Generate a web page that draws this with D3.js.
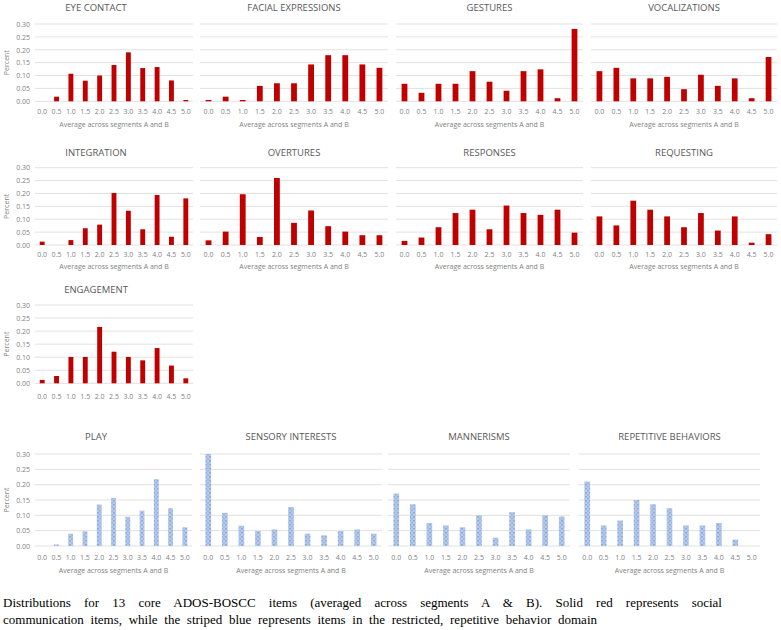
<!DOCTYPE html>
<html><head><meta charset="utf-8">
<script src="https://cdn.jsdelivr.net/npm/d3@7/dist/d3.min.js"></script>
<style>body{margin:0;background:#fff;}svg{display:block;}</style>
</head><body>
<svg id="c" width="781" height="630"></svg>
<script>
// ---------- DATA ----------
const categories = ["0.0","0.5","1.0","1.5","2.0","2.5","3.0","3.5","4.0","4.5","5.0"];
const yTickValues = [0, 0.05, 0.10, 0.15, 0.20, 0.25, 0.30];
const xAxisTitle = "Average across segments A and B";
const yAxisTitle = "Percent";

const eyeContact      = [0, 0.018, 0.107, 0.08, 0.10, 0.141, 0.19, 0.129, 0.133, 0.081, 0.005];
const facialExpr      = [0.005, 0.018, 0.005, 0.06, 0.07, 0.07, 0.143, 0.179, 0.179, 0.143, 0.13];
const gestures        = [0.068, 0.033, 0.068, 0.068, 0.117, 0.076, 0.041, 0.117, 0.124, 0.012, 0.281];
const vocalizations   = [0.117, 0.13, 0.089, 0.089, 0.095, 0.047, 0.103, 0.06, 0.089, 0.012, 0.172];
const integration     = [0.013, 0, 0.019, 0.065, 0.079, 0.202, 0.133, 0.061, 0.194, 0.032, 0.181];
const overtures       = [0.018, 0.052, 0.197, 0.031, 0.26, 0.086, 0.134, 0.073, 0.052, 0.038, 0.038];
const responses       = [0.016, 0.029, 0.069, 0.124, 0.137, 0.061, 0.153, 0.124, 0.117, 0.137, 0.048];
const requesting      = [0.111, 0.076, 0.172, 0.137, 0.111, 0.069, 0.124, 0.056, 0.111, 0.009, 0.042];
const engagement      = [0.013, 0.028, 0.101, 0.101, 0.216, 0.121, 0.101, 0.088, 0.135, 0.068, 0.019];
const play            = [0, 0.005, 0.04, 0.048, 0.135, 0.157, 0.095, 0.115, 0.218, 0.123, 0.061];
const sensory         = [0.30, 0.108, 0.066, 0.049, 0.054, 0.127, 0.04, 0.035, 0.049, 0.054, 0.04];
const mannerisms      = [0.171, 0.136, 0.075, 0.067, 0.061, 0.10, 0.027, 0.11, 0.054, 0.10, 0.096];
const repetitive      = [0.21, 0.067, 0.083, 0.15, 0.136, 0.123, 0.067, 0.067, 0.075, 0.021, 0];

const captionLines = [
  "Distributions for 13 core ADOS-BOSCC items (averaged across segments A & B). Solid red represents social",
  "communication items, while the striped blue represents items in the restricted, repetitive behavior domain"
];

// ---------- LAYOUT ----------
const rows = [
  {top:24,   bottom:101.3, titleY:11,    tickY:114,   axisTitleY:126.5, axisTitle:true},
  {top:167.7,bottom:245,   titleY:155.5, tickY:256.5, axisTitleY:269,   axisTitle:true},
  {top:305,  bottom:383.3, titleY:293,   tickY:398.5, axisTitleY:0,     axisTitle:false},
  {top:454,  bottom:546,   titleY:439.5, tickY:559.5, axisTitleY:573,   axisTitle:true}
];
const colsRed  = [[35,193],[200,388],[396,583],[591,777]];
const colsBlue = [[35,192],[200,382],[388,570],[579,760]];

const panels = [
  {title:"EYE CONTACT", values:eyeContact, row:0, col:0, kind:"red"},
  {title:"FACIAL EXPRESSIONS", values:facialExpr, row:0, col:1, kind:"red"},
  {title:"GESTURES", values:gestures, row:0, col:2, kind:"red"},
  {title:"VOCALIZATIONS", values:vocalizations, row:0, col:3, kind:"red"},
  {title:"INTEGRATION", values:integration, row:1, col:0, kind:"red"},
  {title:"OVERTURES", values:overtures, row:1, col:1, kind:"red"},
  {title:"RESPONSES", values:responses, row:1, col:2, kind:"red"},
  {title:"REQUESTING", values:requesting, row:1, col:3, kind:"red"},
  {title:"ENGAGEMENT", values:engagement, row:2, col:0, kind:"red"},
  {title:"PLAY", values:play, row:3, col:0, kind:"blue"},
  {title:"SENSORY INTERESTS", values:sensory, row:3, col:1, kind:"blue"},
  {title:"MANNERISMS", values:mannerisms, row:3, col:2, kind:"blue"},
  {title:"REPETITIVE BEHAVIORS", values:repetitive, row:3, col:3, kind:"blue"}
];

const svg = d3.select("#c");
const font = "'Open Sans', 'DejaVu Sans', sans-serif";

// striped blue pattern
const defs = svg.append("defs");
const pat = defs.append("pattern").attr("id","blueStripe").attr("patternUnits","userSpaceOnUse")
  .attr("width",4).attr("height",4);
pat.append("rect").attr("width",4).attr("height",4).attr("fill","#b3c8ea");
pat.append("rect").attr("x",1).attr("y",0).attr("width",2).attr("height",1.5).attr("fill","#8eabdb");
pat.append("rect").attr("x",0).attr("y",2).attr("width",1).attr("height",1.5).attr("fill","#9db8e2");
pat.append("rect").attr("x",3).attr("y",2).attr("width",1).attr("height",1.5).attr("fill","#9db8e2");

panels.forEach(p => {
  const r = rows[p.row];
  const cx = (p.kind === "red" ? colsRed : colsBlue)[p.col];
  const x = d3.scaleBand().domain(categories).range(cx).padding(0);
  const y = d3.scaleLinear().domain([0, 0.30]).range([r.bottom, r.top]);
  const g = svg.append("g");

  // gridlines
  g.selectAll("line.grid").data(yTickValues).join("line")
    .attr("x1", cx[0]).attr("x2", cx[1])
    .attr("y1", d => y(d)).attr("y2", d => y(d))
    .attr("stroke", "#d9d9d9").attr("stroke-width", 0.8);

  // bars
  const bw = x.bandwidth() * 0.34;
  g.selectAll("rect.bar").data(p.values.map((v,i)=>({c:categories[i], v}))).join("rect")
    .attr("x", d => x(d.c) + (x.bandwidth() - bw)/2)
    .attr("width", bw)
    .attr("y", d => y(d.v))
    .attr("height", d => r.bottom - y(d.v))
    .attr("fill", p.kind === "red" ? "#c00000" : "url(#blueStripe)");

  // x tick labels
  const xAxis = d3.axisBottom(x).tickSize(0).tickPadding(0);
  const xa = g.append("g").attr("transform", `translate(0,${r.tickY})`).call(xAxis);
  xa.select(".domain").remove();
  xa.selectAll("text").attr("dy", 0).attr("y", 0)
    .attr("font-family", font).attr("font-size", 7).attr("fill", "#7f7f7f");

  // y axis on first column
  if (p.col === 0) {
    const yAxis = d3.axisLeft(y).tickValues(yTickValues).tickFormat(d3.format(".2f")).tickSize(0).tickPadding(0);
    const ya = g.append("g").attr("transform", `translate(30,0)`).call(yAxis);
    ya.select(".domain").remove();
    ya.selectAll("text").attr("font-family", font).attr("font-size", 7).attr("fill", "#7f7f7f");
    g.append("text").text(yAxisTitle)
      .attr("transform", `translate(9,${(r.top + r.bottom)/2}) rotate(-90)`)
      .attr("text-anchor", "middle").attr("font-family", font).attr("font-size", 7).attr("fill", "#7f7f7f");
  }

  // title
  const tx = p.col === 0 ? 96 : (cx[0] + cx[1]) / 2;
  g.append("text").text(p.title).attr("x", tx).attr("y", r.titleY)
    .attr("text-anchor", "middle").attr("font-family", font).attr("font-size", 9.5)
    .attr("fill", "#595959");

  if (r.axisTitle) {
    g.append("text").text(xAxisTitle).attr("x", (cx[0] + cx[1]) / 2).attr("y", r.axisTitleY)
      .attr("text-anchor", "middle").attr("font-family", font).attr("font-size", 7)
      .attr("fill", "#7f7f7f");
  }
});

// caption
const capTargets = [722, 597];
const capY = [607, 624];
captionLines.forEach((line, i) => {
  const t = svg.append("text").text(line).attr("x", 3).attr("y", capY[i])
    .attr("font-family", "'Liberation Serif', 'Times New Roman', serif").attr("font-size", 13)
    .attr("fill", "#000");
  const len = t.node().getComputedTextLength();
  const spaces = (line.match(/ /g) || []).length;
  const ws = (capTargets[i] - 3 - len) / spaces;
  t.attr("word-spacing", ws);
});
</script>
</body></html>
